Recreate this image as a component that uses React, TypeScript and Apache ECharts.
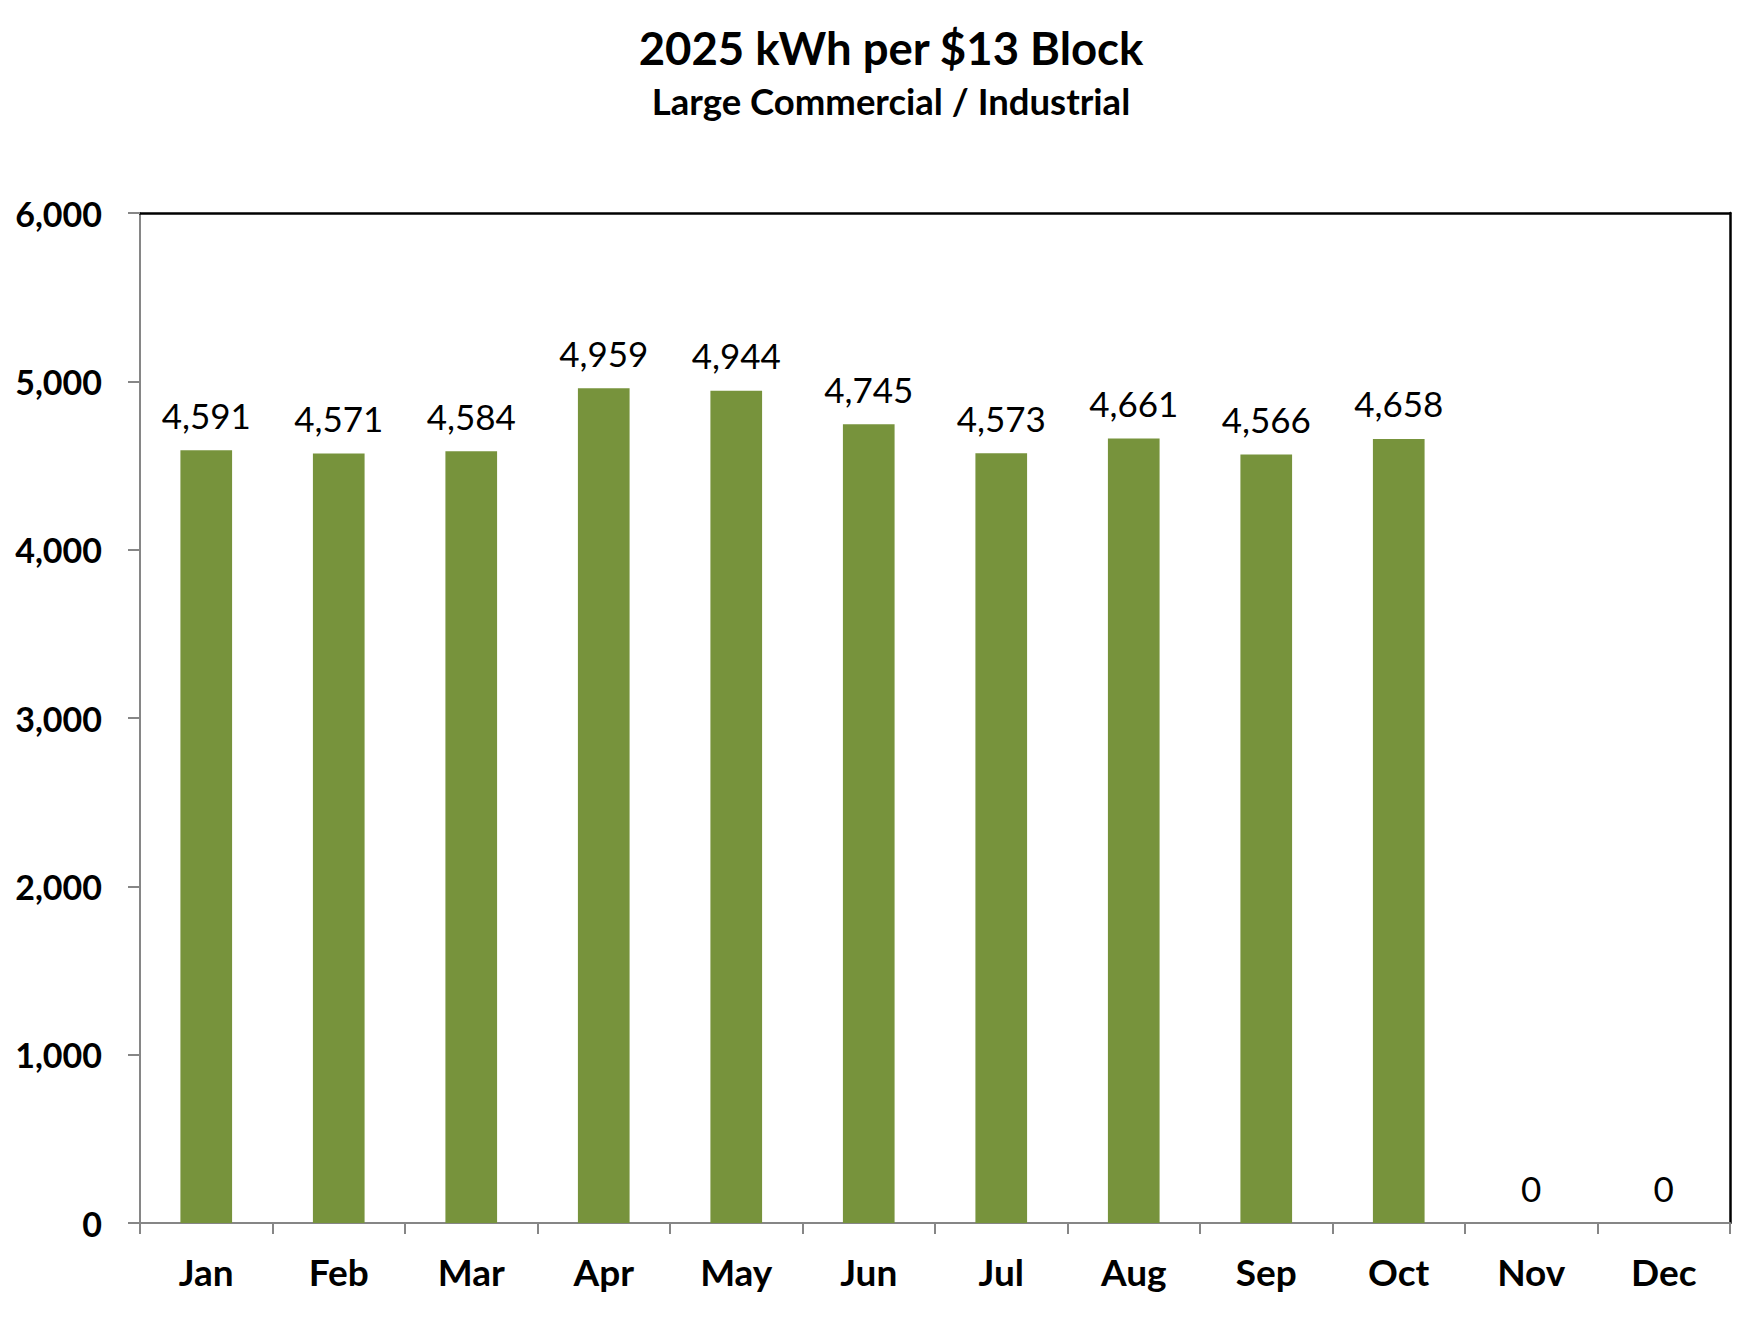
import React, { useEffect, useRef } from "react";
import * as echarts from "echarts";

const titleText = "2025 kWh per $13 Block";
const subtitleText = "Large Commercial / Industrial";
const months = ["Jan", "Feb", "Mar", "Apr", "May", "Jun", "Jul", "Aug", "Sep", "Oct", "Nov", "Dec"];
const kwhValues = [4591, 4571, 4584, 4959, 4944, 4745, 4573, 4661, 4566, 4658, 0, 0];
const yMin = 0;
const yMax = 6000;
const yInterval = 1000;

const FONT = "Lato, 'Open Sans', sans-serif";
const fmt = (v: number) => v.toLocaleString("en-US");

export default function App() {
  const ref = useRef<HTMLDivElement>(null);
  useEffect(() => {
    document.body.style.margin = "0";
    if (!ref.current) return;
    const chart = echarts.init(ref.current, undefined, { renderer: "svg" });
    chart.setOption({
      animation: false,
      backgroundColor: "#ffffff",
      title: {
        text: titleText,
        subtext: subtitleText,
        left: 886,
        textAlign: "center",
        top: 19,
        itemGap: 12,
        textStyle: { fontFamily: FONT, fontWeight: "bold", fontSize: 45.5, color: "#000" },
        subtextStyle: { fontFamily: FONT, fontWeight: "bold", fontSize: 36.5, color: "#000" },
      },
      grid: { left: 140, right: 32, top: 213, bottom: 95, containLabel: false },
      xAxis: [
        {
          type: "category",
          data: months,
          position: "bottom",
          axisLine: { show: true, onZero: false, lineStyle: { color: "#868686", width: 2 } },
          axisTick: { show: true, length: 11, lineStyle: { color: "#868686", width: 2 } },
          axisLabel: {
            margin: 30,
            fontFamily: FONT,
            fontWeight: "bold",
            fontSize: 37,
            color: "#000",
            interval: 0,
          },
        },
        {
          type: "category",
          data: months,
          position: "top",
          axisLine: { show: true, onZero: false, lineStyle: { color: "#000", width: 2.5 } },
          axisTick: { show: false },
          axisLabel: { show: false },
        },
      ],
      yAxis: [
        {
          type: "value",
          min: yMin,
          max: yMax,
          interval: yInterval,
          position: "left",
          splitLine: { show: false },
          axisLine: { show: true, onZero: false, lineStyle: { color: "#868686", width: 2 } },
          axisTick: { show: true, length: 12, lineStyle: { color: "#868686", width: 2 } },
          axisLabel: {
            margin: 38,
            fontFamily: FONT,
            fontWeight: "bold",
            fontSize: 34,
            color: "#000",
            formatter: (v: number) => fmt(v),
          },
        },
        {
          type: "value",
          min: yMin,
          max: yMax,
          interval: yInterval,
          position: "right",
          splitLine: { show: false },
          axisLine: { show: true, onZero: false, lineStyle: { color: "#000", width: 2.5 } },
          axisTick: { show: false },
          axisLabel: { show: false },
        },
      ],
      series: [
        {
          type: "bar",
          data: kwhValues,
          xAxisIndex: 0,
          yAxisIndex: 0,
          barWidth: "39%",
          itemStyle: { color: "#77933C" },
          label: {
            show: true,
            position: "top",
            distance: 18,
            fontFamily: FONT,
            fontSize: 35,
            color: "#000",
            formatter: (p: any) => fmt(p.value),
          },
        },
      ],
    });
    return () => chart.dispose();
  }, []);
  return <div ref={ref} style={{ width: 1762, height: 1318 }} />;
}
